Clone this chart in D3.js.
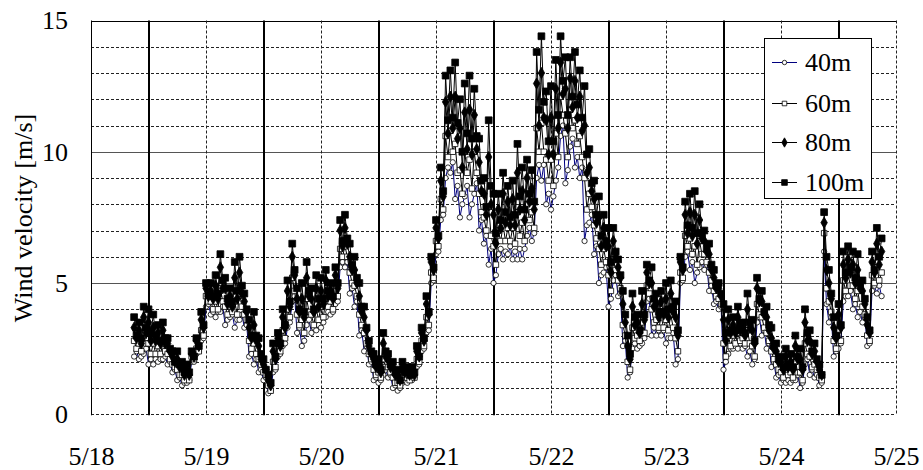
<!DOCTYPE html>
<html>
<head>
<meta charset="utf-8">
<script src="https://cdn.jsdelivr.net/npm/d3@7"></script>
</head>
<body style="margin:0">
<svg id="chart" width="923" height="470" style="display:block"></svg>
<script>
"use strict";

const FONT = "'Liberation Serif'";
const FONT_SIZE = "26px";

// day labels on the x axis (one per midnight)
const dayLabels = ["5/18", "5/19", "5/20", "5/21", "5/22", "5/23", "5/24", "5/25"];
const yTicks = [0, 5, 10, 15];
const seriesNames = ["40m", "60m", "80m", "100m"];

// samples every 30 min: "on the hour" arrays start at 5/18 09:00,
// "half" arrays start at 5/18 09:30
const firstHour = 9;

const v40 = [
  2.2,2.1,2.3,1.9,1.9,2.0,2.1,1.9,1.6,1.3,1.1,1.2,
  2.0,2.3,2.8,4.1,3.8,3.7,3.9,3.4,3.7,3.3,3.6,3.3,
  2.2,1.9,1.6,1.3,0.8,1.6,2.2,2.6,3.3,4.3,3.1,2.6,
  3.4,3.1,3.2,3.3,3.7,3.8,4.2,5.6,5.6,4.6,4.1,3.0,
  2.4,1.9,1.3,1.2,1.5,1.4,1.0,0.9,1.2,1.2,1.3,1.8,
  2.4,3.1,5.0,6.1,7.4,9.0,9.2,8.2,7.5,8.3,7.5,8.4,
  7.0,6.5,5.7,5.0,6.1,5.9,6.1,5.9,5.9,5.9,6.8,6.6,
  9.0,8.9,8.0,7.8,8.9,10.6,8.8,10.2,9.4,9.0,6.6,7.3,
  6.1,5.0,5.4,4.1,5.1,4.5,2.6,1.4,2.5,2.5,2.7,4.3,
  3.0,3.0,3.0,2.7,2.9,1.9,5.0,6.0,5.5,5.0,5.6,5.5,
  4.7,4.2,4.0,1.7,2.3,2.5,2.5,2.5,2.2,1.9,3.5,3.0,
  2.5,1.8,1.4,1.2,1.2,1.2,1.3,1.0,1.9,1.5,1.4,1.1,
  6.2,3.5,2.2,2.5,4.3,4.5,4.0,3.7,3.5,2.6,4.7,4.6,4.5
];
const v40half = [
  2.4,2.2,2.5,2.1,2.1,2.1,2.2,2.0,1.7,1.4,1.2,1.3,
  2.0,2.4,2.9,4.2,3.9,3.9,4.1,3.6,3.8,3.6,3.8,3.4,
  2.3,2.1,1.7,1.4,0.9,1.7,2.3,2.7,3.5,4.5,3.3,2.8,
  3.6,3.3,3.4,3.5,3.9,3.9,4.3,5.8,5.8,4.8,4.3,3.2,
  2.6,2.0,1.4,1.3,1.7,1.5,1.1,1.0,1.3,1.3,1.4,1.9,
  2.5,3.2,5.1,6.2,7.6,9.4,9.6,8.7,8.0,8.7,8.0,8.8,
  7.4,6.8,6.3,5.3,6.3,6.2,6.4,6.2,6.3,6.3,7.1,6.9,
  9.5,9.5,8.4,8.3,9.4,11.0,9.3,10.5,9.8,9.4,7.2,7.6,
  6.4,5.3,5.6,4.4,5.3,4.6,2.8,1.6,2.7,2.6,2.9,4.4,
  3.3,3.2,3.2,2.9,3.1,2.1,5.1,6.2,5.8,5.4,5.8,5.7,
  4.9,4.3,4.1,2.0,2.5,2.6,2.7,2.6,2.4,2.1,3.7,3.2,
  2.7,2.0,1.5,1.3,1.3,1.3,1.5,1.2,2.1,1.7,1.5,1.2,
  4.2,3.7,2.4,2.7,4.5,4.7,4.2,3.9,3.7,2.7,4.9,4.9
];

const v60 = [
  2.8,2.7,3.0,2.7,2.7,2.6,2.7,2.3,1.9,1.7,1.5,1.5,
  2.2,2.5,3.2,4.5,4.3,4.3,4.8,4.1,4.1,4.3,4.6,3.8,
  2.8,2.7,2.1,1.6,1.1,2.0,2.6,3.2,4.0,5.2,3.8,3.6,
  4.4,3.8,4.0,4.1,4.4,4.3,4.8,6.3,6.4,5.4,4.9,3.8,
  3.1,2.3,1.7,1.6,2.1,1.8,1.4,1.2,1.5,1.4,1.5,2.1,
  2.8,3.7,5.4,6.6,8.2,10.6,10.8,10.3,9.3,10.0,9.7,10.0,
  8.4,7.5,7.9,6.4,7.0,7.2,7.1,7.1,7.7,7.3,8.0,7.7,
  10.9,11.1,9.7,9.7,10.7,12.1,10.7,11.6,11.2,10.6,9.0,8.4,
  7.2,6.3,6.3,5.3,5.9,5.1,3.4,2.0,3.3,3.0,3.5,4.9,
  4.0,3.6,3.7,3.6,3.8,2.9,5.4,6.8,6.7,6.4,6.6,6.1,
  5.4,4.7,4.4,2.7,3.0,3.0,3.1,2.9,3.2,2.6,4.2,3.7,
  3.1,2.4,1.9,1.6,1.7,1.6,2.0,1.6,2.7,2.2,1.9,1.4,
  6.9,4.3,2.8,3.2,5.1,5.3,4.9,4.7,4.1,3.0,5.3,5.6,5.4
];
const v60half = [
  2.5,2.4,2.7,2.3,2.3,2.3,2.4,2.1,1.8,1.5,1.3,1.3,
  2.1,2.4,3.0,4.3,4.0,4.0,4.3,3.8,3.9,3.8,4.1,3.6,
  2.5,2.3,1.9,1.5,0.9,1.8,2.4,2.9,3.7,4.7,3.4,3.1,
  3.9,3.4,3.6,3.7,4.1,4.0,4.5,6.0,6.0,5.0,4.5,3.4,
  2.7,2.1,1.5,1.4,1.8,1.6,1.2,1.1,1.4,1.3,1.4,2.0,
  2.6,3.4,5.2,6.4,7.8,9.8,10.0,9.2,8.4,9.2,8.6,9.2,
  7.7,7.0,6.8,5.7,6.6,6.6,6.6,6.5,6.8,6.6,7.4,7.1,
  10.0,10.0,8.9,8.7,9.8,11.4,9.8,10.9,10.3,9.8,7.8,7.9,
  6.7,5.7,5.8,4.7,5.5,4.8,3.0,1.7,2.9,2.8,3.1,4.6,
  3.5,3.3,3.3,3.2,3.3,2.4,5.2,6.4,6.1,5.7,6.1,5.8,
  5.1,4.5,4.2,2.2,2.6,2.7,2.8,2.7,2.7,2.2,3.8,3.3,
  2.8,2.1,1.7,1.4,1.5,1.4,1.6,1.3,2.3,1.8,1.7,1.3,
  4.8,3.9,2.5,2.8,4.7,4.9,4.4,4.2,3.8,2.8,5.0,5.1
];

const v80 = [
  3.3,3.2,3.7,3.5,3.3,3.1,3.2,2.7,2.2,2.1,1.8,1.7,
  2.3,2.8,3.6,4.8,4.7,4.9,5.6,4.8,4.5,5.2,5.4,4.3,
  3.3,3.4,2.6,1.9,1.3,2.4,2.9,3.7,4.7,6.0,4.4,4.4,
  5.2,4.4,4.8,4.7,5.1,4.7,5.3,7.0,7.1,6.0,5.5,4.5,
  3.7,2.6,2.1,1.9,2.7,2.1,1.8,1.5,1.8,1.7,1.7,2.4,
  3.1,4.2,5.8,7.1,8.9,11.9,12.1,12.1,10.9,11.5,11.6,11.4,
  9.6,8.4,9.8,7.6,7.8,8.4,8.1,8.2,9.2,8.5,9.0,8.6,
  12.6,13.0,11.2,11.3,12.4,13.4,12.4,12.8,12.7,12.1,11.0,9.4,
  8.2,7.5,7.1,6.4,6.6,5.6,4.2,2.6,4.1,3.5,4.2,5.4,
  5.0,4.2,4.3,4.4,4.6,3.7,5.8,7.6,7.7,7.6,7.4,6.6,
  6.1,5.2,4.8,3.6,3.6,3.4,3.7,3.3,4.0,3.2,4.8,4.3,
  3.7,2.9,2.4,2.0,2.2,2.0,2.6,2.1,3.5,2.8,2.4,1.7,
  7.3,5.0,3.3,3.8,5.7,5.9,5.7,5.5,4.7,3.4,5.8,6.5,6.2
];
const v80half = [
  2.9,2.7,3.1,2.8,2.8,2.7,2.7,2.4,2.0,1.8,1.5,1.5,
  2.2,2.6,3.3,4.5,4.4,4.4,4.8,4.2,4.1,4.4,4.6,3.9,
  2.9,2.8,2.1,1.7,1.1,2.1,2.6,3.3,4.1,5.3,3.9,3.7,
  4.5,3.9,4.1,4.2,4.5,4.4,4.8,6.4,6.5,5.5,5.0,3.9,
  3.2,2.3,1.8,1.6,2.2,1.8,1.5,1.3,1.6,1.5,1.5,2.2,
  2.8,3.8,5.5,6.7,8.3,10.7,10.9,10.5,9.4,10.1,9.9,10.1,
  8.5,7.6,8.0,6.5,7.1,7.3,7.2,7.2,7.8,7.4,8.1,7.8,
  11.0,11.3,9.9,9.9,10.9,12.2,10.9,11.7,11.3,10.8,9.2,8.5,
  7.3,6.4,6.4,5.4,6.0,5.2,3.5,2.1,3.4,3.1,3.6,5.0,
  4.1,3.7,3.8,3.7,3.9,3.0,5.5,6.9,6.8,6.5,6.7,6.2,
  5.5,4.8,4.5,2.8,3.1,3.1,3.2,3.0,3.3,2.7,4.3,3.8,
  3.2,2.5,2.0,1.7,1.8,1.7,2.1,1.7,2.8,2.3,2.0,1.5,
  5.5,4.4,2.9,3.3,5.2,5.4,5.0,4.8,4.2,3.1,5.4,5.7
];

const v100 = [
  3.7,3.5,4.1,4.0,3.8,3.4,3.5,2.9,2.4,2.4,2.0,1.9,
  2.4,2.9,3.9,5.0,5.0,5.3,6.1,5.2,4.8,5.8,6.0,4.6,
  3.6,3.9,2.9,2.1,1.5,2.7,3.1,4.0,5.1,6.5,4.8,5.0,
  5.8,4.8,5.3,5.2,5.5,5.0,5.6,7.4,7.6,6.5,6.0,5.0,
  4.1,2.8,2.3,2.1,3.1,2.3,2.0,1.7,2.0,1.8,1.8,2.6,
  3.3,4.5,6.0,7.4,9.4,12.9,13.1,13.4,12.0,12.6,12.9,12.4,
  10.5,9.0,11.2,8.4,8.4,9.2,8.7,8.9,10.3,9.4,9.7,9.3,
  13.8,14.4,12.3,12.5,13.5,14.4,13.6,13.6,13.8,13.1,12.5,10.1,
  8.9,8.3,7.6,7.1,7.1,5.9,4.7,3.0,4.6,3.8,4.7,5.7,
  5.6,4.6,4.7,5.0,5.1,4.3,6.0,8.1,8.4,8.5,8.0,7.0,
  6.5,5.5,5.0,4.2,4.0,3.7,4.1,3.5,4.6,3.6,5.2,4.7,
  4.1,3.3,2.7,2.2,2.5,2.3,3.0,2.5,4.0,3.2,2.7,1.9,
  7.7,5.5,3.7,4.2,6.2,6.4,6.2,6.1,5.1,3.7,6.2,7.1,6.7
];
const v100half = [
  3.0,2.9,3.3,3.1,3.0,2.8,2.9,2.5,2.0,1.9,1.6,1.6,
  2.2,2.6,3.4,4.6,4.5,4.6,5.1,4.4,4.3,4.7,4.9,4.0,
  3.0,3.0,2.3,1.7,1.2,2.2,2.7,3.4,4.3,5.5,4.0,3.9,
  4.7,4.0,4.4,4.4,4.7,4.5,5.0,6.6,6.7,5.7,5.2,4.1,
  3.3,2.4,1.9,1.7,2.4,1.9,1.6,1.3,1.6,1.5,1.6,2.2,
  2.9,3.9,5.6,6.8,8.5,11.2,11.3,11.1,10.0,10.7,10.5,10.6,
  8.9,7.9,8.7,6.9,7.4,7.7,7.5,7.6,8.3,7.8,8.4,8.1,
  11.6,11.9,10.4,10.4,11.4,12.7,11.4,12.1,11.8,11.3,9.9,8.8,
  7.6,6.8,6.6,5.8,6.2,5.3,3.8,2.3,3.7,3.2,3.8,5.1,
  4.4,3.9,3.9,4.0,4.1,3.2,5.6,7.2,7.1,6.9,6.9,6.3,
  5.7,4.9,4.6,3.1,3.2,3.2,3.4,3.1,3.5,2.8,4.4,3.9,
  3.4,2.6,2.1,1.8,1.9,1.8,2.2,1.8,3.1,2.4,2.1,1.5,
  6.0,4.6,3.0,3.4,5.4,5.6,5.2,5.0,4.4,3.2,5.5,6.0
];

// merge hourly and half-hourly readings into one time-ordered list
function samples(onHour, half) {
  const out = [];
  onHour.forEach((v, i) => {
    out.push({ t: firstHour + i, v: v });
    if (i < half.length) out.push({ t: firstHour + i + 0.5, v: half[i] });
  });
  return out;
}

function draw() {
  const svg = d3.select("#chart");

  // plot area
  const plotLeft = 91, plotRight = 896, plotTop = 20.5, plotBottom = 414.3;

  const x = d3.scaleLinear().domain([0, 168]).range([plotLeft, plotRight]);
  const y = d3.scaleLinear().domain([0, 15]).range([plotBottom, plotTop]);

  const grid = svg.append("g");

  // horizontal grid: dashed every 1, solid at 5 and 10
  d3.range(0, 15).forEach(v => {
    const major = (v === 5 || v === 10);
    grid.append("line")
      .attr("x1", plotLeft).attr("x2", plotRight)
      .attr("y1", Math.round(y(v)) + 0.5).attr("y2", Math.round(y(v)) + 0.5)
      .attr("stroke", major ? "#555" : "#222")
      .attr("stroke-width", 1)
      .attr("stroke-dasharray", major ? null : "3,2");
  });
  // top border
  grid.append("line")
    .attr("x1", plotLeft).attr("x2", plotRight)
    .attr("y1", Math.round(y(15)) + 0.5).attr("y2", Math.round(y(15)) + 0.5)
    .attr("stroke", "#000");

  // vertical grid: dashed at midnight, solid bold at noon
  d3.range(24, 169, 24).forEach(h => {
    grid.append("line")
      .attr("x1", Math.round(x(h)) + 0.5).attr("x2", Math.round(x(h)) + 0.5)
      .attr("y1", plotTop).attr("y2", plotBottom)
      .attr("stroke", "#222")
      .attr("stroke-dasharray", "3,2");
  });
  d3.range(12, 168, 24).forEach(h => {
    grid.append("line")
      .attr("x1", Math.round(x(h))).attr("x2", Math.round(x(h)))
      .attr("y1", plotTop).attr("y2", plotBottom + 1)
      .attr("stroke", "#000")
      .attr("stroke-width", 2);
  });
  // left border
  grid.append("line")
    .attr("x1", plotLeft + 0.5).attr("x2", plotLeft + 0.5)
    .attr("y1", plotTop).attr("y2", plotBottom + 1)
    .attr("stroke", "#000");

  // axes (labels only)
  const xAxis = d3.axisBottom(x)
    .tickValues(dayLabels.map((d, i) => i * 24))
    .tickFormat((d, i) => dayLabels[i])
    .tickSize(0)
    .tickPadding(32);
  const gx = svg.append("g")
    .attr("transform", "translate(0," + plotBottom + ")")
    .call(xAxis);
  gx.attr("font-family", null).attr("font-size", null);
  gx.select(".domain").remove();
  gx.selectAll("text")
    .attr("fill", "#000")
    .style("font-family", FONT)
    .style("font-size", FONT_SIZE);

  const yAxis = d3.axisLeft(y)
    .tickValues(yTicks)
    .tickFormat(d3.format("d"))
    .tickSize(0)
    .tickPadding(23);
  const gy = svg.append("g")
    .attr("transform", "translate(" + plotLeft + ",0)")
    .call(yAxis);
  gy.attr("font-family", null).attr("font-size", null);
  gy.select(".domain").remove();
  gy.selectAll("text")
    .attr("fill", "#000")
    .style("font-family", FONT)
    .style("font-size", FONT_SIZE);

  // y axis title
  svg.append("text")
    .attr("transform", "translate(32,218) rotate(-90)")
    .attr("text-anchor", "middle")
    .style("font-family", FONT)
    .style("font-size", FONT_SIZE)
    .text("Wind velocity [m/s]");

  // series, drawn in legend order so the 100m marks end up on top
  const series = [
    { name: seriesNames[0], data: samples(v40, v40half),   line: "#000080", symbol: d3.symbolCircle,  size: 22, fill: "#fff" },
    { name: seriesNames[1], data: samples(v60, v60half),   line: "#000",    symbol: d3.symbolSquare,  size: 30, fill: "#fff" },
    { name: seriesNames[2], data: samples(v80, v80half),   line: "#000",    symbol: d3.symbolDiamond, size: 36, fill: "#000" },
    { name: seriesNames[3], data: samples(v100, v100half), line: "#000",    symbol: d3.symbolSquare,  size: 46, fill: "#000" }
  ];

  const lineGen = d3.line()
    .x(d => x(d.t))
    .y(d => y(d.v));

  const plot = svg.append("g");

  series.forEach(s => {
    const g = plot.append("g");
    g.append("path")
      .datum(s.data)
      .attr("fill", "none")
      .attr("stroke", s.line)
      .attr("stroke-width", 1)
      .attr("d", lineGen);
    g.selectAll("path.m")
      .data(s.data)
      .enter()
      .append("path")
      .attr("class", "m")
      .attr("transform", d => "translate(" + x(d.t) + "," + y(d.v) + ")")
      .attr("d", d3.symbol().type(s.symbol).size(s.size))
      .attr("fill", s.fill)
      .attr("stroke", "#000")
      .attr("stroke-width", 0.8);
  });

  // legend
  const legend = svg.append("g");
  legend.append("rect")
    .attr("x", 764.5).attr("y", 38.5)
    .attr("width", 107).attr("height", 160)
    .attr("fill", "#fff")
    .attr("stroke", "#000");

  const rowY = [62, 103, 142, 182];
  series.forEach((s, i) => {
    const row = legend.append("g").attr("transform", "translate(0," + rowY[i] + ")");
    row.append("line")
      .attr("x1", 772).attr("x2", 797)
      .attr("y1", 0.5).attr("y2", 0.5)
      .attr("stroke", s.line);
    row.append("path")
      .attr("transform", "translate(784.5,0.5)")
      .attr("d", d3.symbol().type(s.symbol).size(s.size * 0.7))
      .attr("fill", s.fill)
      .attr("stroke", "#000")
      .attr("stroke-width", 0.8);
    row.append("text")
      .attr("x", 805)
      .attr("y", 0)
      .attr("dy", "0.33em")
      .style("font-family", FONT)
      .style("font-size", FONT_SIZE)
      .text(s.name);
  });
}

draw();
</script>
</body>
</html>
